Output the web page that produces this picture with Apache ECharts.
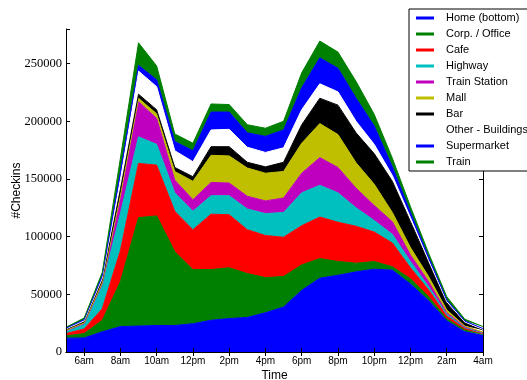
<!DOCTYPE html>
<html><head><meta charset="utf-8">
<script src="https://cdn.jsdelivr.net/npm/echarts@6/dist/echarts.min.js"></script>
<style>html,body{margin:0;padding:0;background:#fff;} #c{width:527px;height:380px;}</style>
</head><body><div id="c"></div>
<script>
// hours of the day, 5am .. 4am (next day)
const hours = ['5am','6am','7am','8am','9am','10am','11am','12pm','1pm','2pm','3pm','4pm','5pm','6pm','7pm','8pm','9pm','10pm','11pm','12am','1am','2am','3am','4am'];
const tickLabels = ['6am','8am','10am','12pm','2pm','4pm','6pm','8pm','10pm','12pm','2am','4am'];
const yTicks = [0, 50000, 100000, 150000, 200000, 250000];

const seriesNames = ['Home (bottom)','Corp. / Office','Cafe','Highway','Train Station','Mall','Bar','Other - Buildings','Supermarket','Train'];
const seriesColors = ['#0000ff','#008000','#ff0000','#00bfbf','#bf00bf','#bfbf00','#000000','#ffffff','#0000ff','#008000'];

const home        = [12000,12200,17500,22000,22500,23000,23000,24500,27500,29000,30000,34000,39000,53500,64000,66500,69500,71800,71000,59000,44500,27000,17500,14500];
const corpOffice  = [2000,3800,10000,39000,94000,95000,64000,47000,44000,44000,38000,30500,26500,22000,17000,12000,7500,6600,3000,4500,3500,1800,1500,700];
const cafe        = [2000,4000,10000,27000,47000,44000,35000,34500,48000,46000,38000,36500,34000,34000,36000,34000,32000,25600,20500,9500,5800,2500,1500,700];
const highway     = [2000,4000,20000,32000,23000,18000,16000,16000,16000,16500,18000,19000,21500,28500,27500,25500,16000,10000,7500,5500,2900,1400,700,500];
const trainStation= [400,600,1500,13000,30500,22500,11000,10000,11500,11000,11000,11000,12500,17000,24000,22000,17000,13000,11000,5500,4300,1400,600,400];
const mall        = [400,600,1000,3000,3000,4000,7500,16000,23500,23500,24500,24000,23000,26000,29500,28500,22000,18500,8000,6500,4400,2400,700,500];
const bar         = [800,1200,2500,5000,3500,3500,3500,4000,7500,8000,5000,5500,8000,16000,22000,25500,26000,26500,27000,22500,12500,6300,2800,1700];
const otherBuild  = [500,600,1500,9000,20000,20000,14500,13000,14500,15000,13000,12500,12500,13000,12500,11500,10000,8000,5000,3500,1400,900,700,600];
const supermarket = [600,1000,2000,6000,5000,6000,8000,9500,15500,15000,12500,14000,15500,19000,22500,20500,20000,16000,7500,4500,2900,1400,800,700];
const train       = [800,1500,3000,12000,19500,12000,6500,6500,7000,6500,7000,7000,7500,13000,14500,14000,14500,10000,7500,5000,3500,2900,1600,1700];

const seriesData = [home, corpOffice, cafe, highway, trainStation, mall, bar, otherBuild, supermarket, train];

const chart = echarts.init(document.getElementById('c'), null, {renderer:'canvas'});
const oddIdx = function(i){ return i % 2 === 1; };
const tickStyle = {show:true, inside:true, length:4, interval:oddIdx, lineStyle:{color:'#000', width:1}};
const yTickStyle = {show:true, inside:true, length:4, lineStyle:{color:'#000', width:1}};

chart.setOption({
  animation:false,
  backgroundColor:'#fff',
  grid:{left:66, top:29, right:44, bottom:28, containLabel:false, outerBoundsMode:'none'},
  legend:{
    orient:'vertical', left:409, top:9,
    padding:[3,40,3,7],
    itemWidth:18, itemHeight:3, itemGap:4,
    icon:'rect',
    borderColor:'#000', borderWidth:1, backgroundColor:'#fff',
    selectedMode:false,
    data: seriesNames,
    textStyle:{fontFamily:'Liberation Sans', fontSize:11, color:'#000', lineHeight:12, padding:[0,0,0,7]},
    z:20
  },
  xAxis:[
    {type:'category', data:hours, boundaryGap:false, position:'bottom', z:10,
     axisLine:{show:true, lineStyle:{color:'#000', width:1}},
     axisTick:tickStyle,
     axisLabel:{interval:oddIdx, margin:4, fontFamily:'Liberation Sans', fontSize:10, color:'#000',
       formatter:function(v, i){ return i % 2 === 1 ? tickLabels[(i-1)/2] : ''; }},
     splitLine:{show:false},
     name:'Time', nameLocation:'middle', nameGap:18, nameMoveOverlap:false,
     nameTextStyle:{fontFamily:'Liberation Sans', fontSize:12, color:'#000'}},
    {type:'category', data:hours, boundaryGap:false, position:'top', z:10,
     axisLine:{show:true, lineStyle:{color:'#000', width:1}},
     axisTick:tickStyle, axisLabel:{show:false}, splitLine:{show:false}}
  ],
  yAxis:[
    {type:'value', min:0, max:280000, interval:50000, position:'left', z:10,
     axisLine:{show:true, lineStyle:{color:'#000', width:1}},
     axisTick:yTickStyle,
     axisLabel:{margin:4, fontFamily:'Liberation Serif', fontSize:12.5, color:'#000',
       formatter:function(v){ return yTicks.indexOf(v) >= 0 ? String(v) : ''; }},
     splitLine:{show:false},
     name:'#Checkins', nameLocation:'middle', nameGap:43, nameMoveOverlap:false,
     nameTextStyle:{fontFamily:'Liberation Sans', fontSize:12, color:'#000'}},
    {type:'value', min:0, max:280000, interval:50000, position:'right', z:10,
     axisLine:{show:true, lineStyle:{color:'#000', width:1}},
     axisTick:yTickStyle, axisLabel:{show:false}, splitLine:{show:false}}
  ],
  series: seriesNames.map(function(name, k){
    return {
      name:name, type:'line', stack:'total', data:seriesData[k],
      xAxisIndex:0, yAxisIndex:0,
      symbol:'none', showSymbol:false, smooth:false,
      lineStyle:{color:seriesColors[k], width:1},
      itemStyle:{color:seriesColors[k]},
      areaStyle:{color:seriesColors[k], opacity:1},
      emphasis:{disabled:true},
      z:2
    };
  })
});
</script>
</body></html>
